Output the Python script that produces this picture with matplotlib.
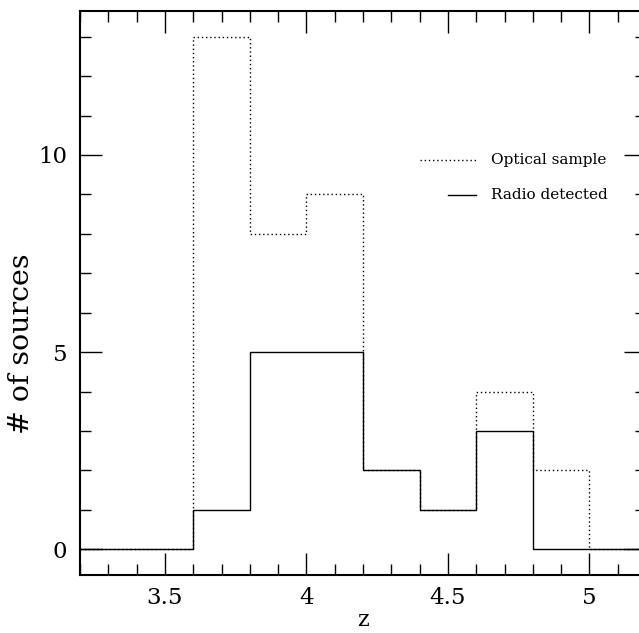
import numpy as np
import matplotlib.pyplot as plt
from matplotlib.ticker import MultipleLocator

# histogram data (bin edges in z, counts per bin)
z_edges = [3.2, 3.4, 3.6, 3.8, 4.0, 4.2, 4.4, 4.6, 4.8, 5.0, 5.2]
optical_counts = [0, 0, 13, 8, 9, 2, 1, 4, 2, 0]
radio_counts = [0, 0, 1, 5, 5, 2, 1, 3, 0, 0]
labels = ['Optical sample', 'Radio detected']

plt.rcParams['font.family'] = ['DejaVu Serif']

fig = plt.figure(figsize=(6.39, 6.33), dpi=100)
ax = fig.add_axes([80 / 639, 1 - 575 / 633, (646 - 80) / 639, (575 - 11) / 633])

ax.stairs(optical_counts, z_edges, baseline=None, color='black', lw=1.0, linestyle=(0, (1, 2)))
ax.stairs(radio_counts, z_edges, baseline=None, color='black', lw=1.0)

ax.set_xlim(3.2, 5.2)
ax.set_ylim(-0.65, 13.65)

ax.xaxis.set_major_locator(MultipleLocator(0.5))
ax.xaxis.set_minor_locator(MultipleLocator(0.1))
ax.yaxis.set_major_locator(MultipleLocator(5))
ax.yaxis.set_minor_locator(MultipleLocator(1))
ax.set_xticks([3.5, 4, 4.5, 5])
ax.set_xticklabels(['3.5', '4', '4.5', '5'])

ax.tick_params(which='both', direction='in', top=True, right=True, width=1.0, labelsize=16.5, pad=9)
ax.tick_params(which='major', length=16)
ax.tick_params(which='minor', length=8)
for s in ax.spines.values():
    s.set_linewidth(1.5)

ax.set_xlabel('z', fontsize=16, labelpad=0)
ax.set_ylabel('# of sources', fontsize=20.5)
ax.yaxis.set_label_coords(-0.08, 0.41)

# legend drawn by hand like the original
ax.plot([0.60, 0.70], [0.735, 0.735], transform=ax.transAxes, color='black', lw=1.0, linestyle=(0, (1, 2)))
ax.text(0.727, 0.735, labels[0], transform=ax.transAxes, fontsize=11, va='center', ha='left')
ax.plot([0.65, 0.70], [0.673, 0.673], transform=ax.transAxes, color='black', lw=1.0)
ax.text(0.727, 0.673, labels[1], transform=ax.transAxes, fontsize=11, va='center', ha='left')

fig.savefig('out.png', dpi=100)
